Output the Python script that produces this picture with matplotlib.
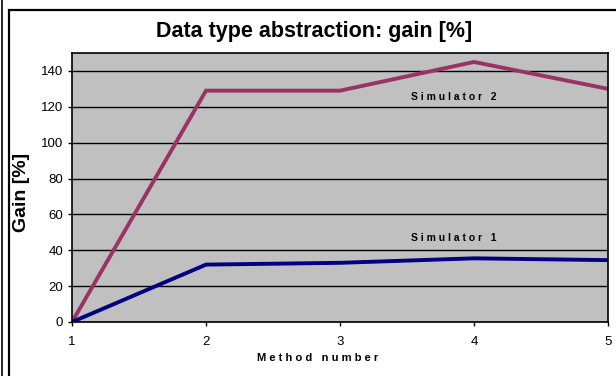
import matplotlib.pyplot as plt
from matplotlib.patches import Rectangle
from matplotlib.lines import Line2D

plt.rcParams['font.family'] = ['Liberation Sans', 'DejaVu Sans']

methods = [1, 2, 3, 4, 5]
sim1 = [0, 32, 33, 35.5, 34.5]
sim2 = [0, 129, 129, 145, 130]
yticks = [0, 20, 40, 60, 80, 100, 120, 140]

W, H = 616, 376
fig = plt.figure(figsize=(W / 100, H / 100), dpi=100)

# outer frame of the chart area (cropped on right and bottom)
fig.patches.append(Rectangle((9 / W, -0.1), 1.2, 1 - 10 / H + 0.1, transform=fig.transFigure,
                             fill=False, edgecolor='black', linewidth=1.6))
fig.lines.append(Line2D([1.5 / W, 1.5 / W], [0, 1], transform=fig.transFigure, color='black', linewidth=1.2))

ax = fig.add_axes([72 / W, 1 - 322 / H, (608 - 72) / W, (322 - 53) / H])
ax.set_facecolor('#C0C0C0')

ax.plot(methods, sim2, color='#993366', linewidth=2.8, solid_joinstyle='miter')
ax.plot(methods, sim1, color='#000080', linewidth=2.8, solid_joinstyle='miter')

ax.text(3.85, 125.5, 'S i m u l a t o r   2', ha='center', va='center', fontsize=7.5, fontweight='bold')
ax.text(3.85, 47, 'S i m u l a t o r   1', ha='center', va='center', fontsize=7.5, fontweight='bold')

ax.set_xlim(1, 5)
ax.set_ylim(0, 150)
ax.set_xticks(methods)
ax.set_yticks(yticks)
ax.grid(axis='y', color='black', linewidth=1)
ax.set_axisbelow(True)
ax.tick_params(direction='out', length=3, width=1, labelsize=9.5, color='black')
ax.tick_params(axis='x', pad=7)
for s in ax.spines.values():
    s.set_linewidth(1.2)

fig.text(314 / W, 1 - 32 / H, 'Data type abstraction: gain [%]', ha='center', va='center',
         fontsize=15.5, fontweight='bold')
fig.text(22 / W, 1 - 192 / H, 'Gain [%]', ha='center', va='center', rotation=90,
         fontsize=14, fontweight='heavy')
fig.text(318 / W, 1 - 358 / H, 'M e t h o d   n u m b e r', ha='center', va='center',
         fontsize=8, fontweight='bold')

fig.savefig('out.png', dpi=100)
